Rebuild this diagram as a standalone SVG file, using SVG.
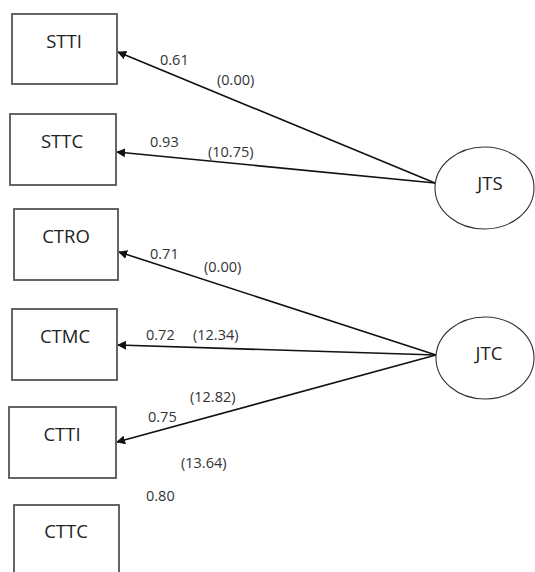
<svg xmlns="http://www.w3.org/2000/svg" width="535" height="572" viewBox="0 0 535 572">
  <style>
    .box { fill: #ffffff; stroke: #555555; stroke-width: 1.8; }
    .lat { fill: #ffffff; stroke: #333333; stroke-width: 1.1; }
    .name { font-family: "Open Sans", "DejaVu Sans", sans-serif; font-size: 18.5px; fill: #222222; text-anchor: middle; }
    .coef { font-family: "Open Sans", "DejaVu Sans", sans-serif; font-size: 14.5px; fill: #333333; }
    .edge { fill: none; stroke: #111111; stroke-width: 1.6; marker-end: url(#head); }
  </style>
  <defs>
    <marker id="head" viewBox="0 0 10 10" refX="9" refY="5" markerWidth="9" markerHeight="9" markerUnits="userSpaceOnUse" orient="auto">
      <path d="M0,0 L10,5 L0,10 Z" fill="#111111"/>
    </marker>
  </defs>

  <rect width="535" height="572" fill="#ffffff"/>

  <!-- connectors: latent factors to their indicators -->
  <g id="connectors">
    <path class="edge" d="M435,183 L118,52"/>
    <path class="edge" d="M435,183 L117,152"/>
    <path class="edge" d="M436,355 L119,252"/>
    <path class="edge" d="M436,355 L118,345"/>
    <path class="edge" d="M436,355 L117,442"/>
  </g>

  <!-- path coefficients and t-values -->
  <g id="labels">
    <text class="coef" x="160" y="65">0.61</text>
    <text class="coef" x="217" y="85">(0.00)</text>
    <text class="coef" x="150" y="147">0.93</text>
    <text class="coef" x="208" y="157">(10.75)</text>
    <text class="coef" x="150" y="259">0.71</text>
    <text class="coef" x="204" y="272">(0.00)</text>
    <text class="coef" x="146" y="340">0.72</text>
    <text class="coef" x="193" y="340">(12.34)</text>
    <text class="coef" x="190" y="402">(12.82)</text>
    <text class="coef" x="148" y="422">0.75</text>
    <text class="coef" x="181" y="468">(13.64)</text>
    <text class="coef" x="146" y="501">0.80</text>
  </g>

  <g id="STTI">
    <rect class="box" x="12" y="14" width="105" height="70"/>
    <text class="name" x="64" y="48">STTI</text>
  </g>
  <g id="STTC">
    <rect class="box" x="10" y="114" width="106" height="71"/>
    <text class="name" x="62" y="148">STTC</text>
  </g>
  <g id="CTRO">
    <rect class="box" x="14" y="209" width="104" height="71"/>
    <text class="name" x="66" y="243">CTRO</text>
  </g>
  <g id="CTMC">
    <rect class="box" x="12" y="309" width="105" height="71"/>
    <text class="name" x="65" y="343">CTMC</text>
  </g>
  <g id="CTTI">
    <rect class="box" x="9" y="407" width="107" height="71"/>
    <text class="name" x="62" y="441">CTTI</text>
  </g>
  <g id="CTTC">
    <rect class="box" x="14" y="505" width="105" height="80"/>
    <text class="name" x="66" y="538">CTTC</text>
  </g>

  <g id="JTS">
    <ellipse class="lat" cx="484.5" cy="188" rx="49.5" ry="41"/>
    <text class="name" x="490" y="190">JTS</text>
  </g>
  <g id="JTC">
    <ellipse class="lat" cx="485" cy="358" rx="49" ry="41"/>
    <text class="name" x="489" y="360">JTC</text>
  </g>
</svg>
